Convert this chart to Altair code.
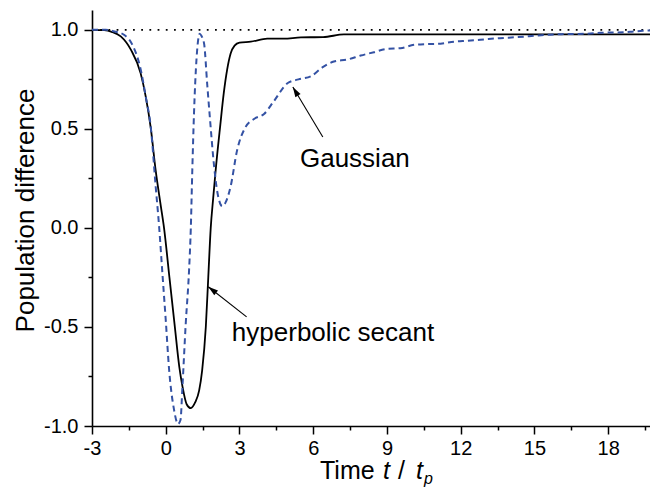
import math
import altair as alt
import pandas as pd

# ---- data ----
# hyperbolic secant pulse (solid black)
sech_t = [-3.0, -2.5, -2.2, -1.83, -1.42, -1.02, -0.81, -0.61, -0.41, -0.2, -0.07, 0.15, 0.37, 0.55, 0.68,
          0.85, 1.02, 1.2, 1.36, 1.48, 1.63, 1.73, 1.83, 1.93, 2.03, 2.22, 2.36, 2.5, 2.64, 2.8, 3.0, 3.46,
          4.13, 4.8, 5.5, 6.4, 7.25, 10.0, 15.0, 20.0]
sech_v = [1.0, 0.998, 0.99, 0.967, 0.90, 0.78, 0.66, 0.505, 0.29, 0.11, 0.0, -0.25, -0.5, -0.70, -0.80,
          -0.89, -0.91, -0.88, -0.82, -0.72, -0.50, -0.25, 0.0, 0.15, 0.29, 0.52, 0.68, 0.80, 0.88, 0.92, 0.935,
          0.94, 0.955, 0.955, 0.962, 0.963, 0.977, 0.977, 0.977, 0.977]

# Gaussian pulse (dashed blue)
gauss_t = [-3.0, -2.44, -2.03, -1.7, -1.36, -1.02, -0.81, -0.61, -0.41, -0.27, -0.13, 0.0, 0.14, 0.34, 0.5,
           0.6, 0.68, 0.81, 0.95, 1.02, 1.08, 1.15, 1.25, 1.32, 1.38, 1.45, 1.56, 1.69, 1.8, 1.96, 2.1,
           2.3, 2.44, 2.64, 2.9, 3.25, 3.59, 4.0, 4.4, 4.95, 5.4, 5.9, 6.37, 6.84, 7.39, 7.93, 8.47,
           9.0, 9.55, 10.1, 10.64, 11.18, 11.72, 12.26, 12.8, 13.6, 14.3, 15.0, 15.5, 16.1, 17.1, 17.7,
           18.4, 18.9, 19.4, 20.0]
gauss_v = [1.0, 1.0, 0.99, 0.975, 0.925, 0.80, 0.66, 0.51, 0.21, 0.007, -0.24, -0.465, -0.72, -0.92, -0.99,
           -0.97, -0.80, -0.49, -0.21, 0.0, 0.29, 0.58, 0.85, 0.95, 0.98, 0.97, 0.93, 0.72, 0.55, 0.32, 0.18,
           0.11, 0.13, 0.21, 0.39, 0.51, 0.55, 0.575, 0.64, 0.73, 0.75, 0.765, 0.81, 0.84, 0.85, 0.87, 0.887,
           0.904, 0.907, 0.924, 0.928, 0.93, 0.94, 0.945, 0.95, 0.958, 0.963, 0.97, 0.975, 0.978, 0.98, 0.985,
           0.987, 0.99, 0.995, 0.997]

# reference level
ref_t = [-3.0, 20.0]
ref_v = [1.0, 1.0]

# axis ticks
x_ticks = [-3 + 1.5 * i for i in range(16)]
y_ticks = [-1.0, -0.75, -0.5, -0.25, 0.0, 0.25, 0.5, 0.75, 1.0]

# annotations
ann_text = ["Gaussian", "hyperbolic secant"]
ann_text_t = [5.46, 2.69]
ann_text_v = [0.307, -0.570]
arrow_tail_t = [6.39, 3.29]
arrow_tail_v = [0.459, -0.449]
arrow_tip_t = [5.17, 1.73]
arrow_tip_v = [0.711, -0.297]

# ---- layout ----
W, H = 558, 416
X_DOM = [-3, 19.7]
Y_DOM = [-1.0, 1.1]
FONT = "Liberation Sans"
BLUE = "#3452a4"

px_t = W / (X_DOM[1] - X_DOM[0])
px_v = H / (Y_DOM[1] - Y_DOM[0])

xscale = alt.Scale(domain=X_DOM, nice=False, zero=False)
yscale = alt.Scale(domain=Y_DOM, nice=False, zero=False)

xaxis = alt.Axis(
    values=x_ticks,
    labelExpr="datum.value % 3 === 0 ? '' + datum.value : ''",
    tickSize={"condition": {"test": "datum.value % 3 === 0", "value": 8}, "value": 4},
    grid=False, domainColor="black", domainWidth=1.6, tickColor="black", tickWidth=1.5,
    labelFont=FONT, labelFontSize=20, labelColor="black", labelPadding=4,
    labelFlush=False, labelOverlap=False, title=None,
)
yaxis = alt.Axis(
    values=y_ticks,
    labelExpr="datum.value % 0.5 === 0 ? (datum.value < 0 ? '-' : '') + format(abs(datum.value), '.1f') : ''",
    tickSize={"condition": {"test": "datum.value % 0.5 === 0", "value": 8}, "value": 4},
    grid=False, domainColor="black", domainWidth=1.6, tickColor="black", tickWidth=1.5,
    labelFont=FONT, labelFontSize=20, labelColor="black", labelPadding=6,
    labelFlush=False, labelOverlap=False,
    title="Population difference", titleFont=FONT, titleFontSize=26, titleFontWeight="normal",
    titleColor="black", titleAngle=270, titleBaseline="alphabetic", titleAlign="center",
    titleX=-59, titleY=200,
)

X = alt.X("t:Q", scale=xscale, axis=xaxis)
Y = alt.Y("v:Q", scale=yscale, axis=yaxis)

ref_df = pd.DataFrame({"t": ref_t, "v": ref_v})
sech_df = pd.DataFrame({"t": sech_t, "v": sech_v})
gauss_df = pd.DataFrame({"t": gauss_t, "v": gauss_v})

ref_line = alt.Chart(ref_df).mark_line(
    color="black", strokeDash=[1.8, 6.4], strokeWidth=1.8, clip=True
).encode(x=X, y=Y)

sech_line = alt.Chart(sech_df).mark_line(
    color="black", strokeWidth=1.8, clip=True, interpolate="monotone"
).encode(x=X, y=Y, order="t:Q")

gauss_line = alt.Chart(gauss_df).mark_line(
    color=BLUE, strokeDash=[6, 4], strokeWidth=2, clip=True, interpolate="monotone"
).encode(x=X, y=Y, order="t:Q")

arrow_df = pd.DataFrame({
    "t": arrow_tail_t, "v": arrow_tail_v, "t2": arrow_tip_t, "v2": arrow_tip_v,
})
angles = []
for a, b, c, d in zip(arrow_tail_t, arrow_tail_v, arrow_tip_t, arrow_tip_v):
    dx = (c - a) * px_t
    dy = -(d - b) * px_v
    angles.append(math.degrees(math.atan2(dx, -dy)) % 360)
head_df = pd.DataFrame({"t": arrow_tip_t, "v": arrow_tip_v, "angle": angles})

arrow_lines = alt.Chart(arrow_df).mark_rule(color="black", strokeWidth=1.1).encode(
    x=X, y=Y, x2="t2:Q", y2="v2:Q"
)
arrow_heads = alt.Chart(head_df).mark_point(
    shape="M0,0L0.6,2L-0.6,2Z", filled=True, color="black", opacity=1, size=100, strokeWidth=0
).encode(x=X, y=Y, angle=alt.Angle("angle:Q", scale=None))

text_df = pd.DataFrame({"t": ann_text_t, "v": ann_text_v, "label": ann_text})
ann = alt.Chart(text_df).mark_text(
    align="left", baseline="alphabetic", font=FONT, fontSize=26, color="black"
).encode(x=X, y=Y, text="label:N")

# x axis title: Time t / t_p
one = pd.DataFrame({"a": [0]})
def piece(txt, xpos, ypos, size=25, style="normal"):
    return alt.Chart(one).mark_text(
        text=txt, align="left", baseline="alphabetic", font=FONT, fontSize=size,
        fontStyle=style, color="black"
    ).encode(x=alt.value(xpos), y=alt.value(ypos))

xtitle = [
    piece("Time", 228, 469),
    piece("t", 291, 469, style="italic"),
    piece("/", 306, 469),
    piece("t", 324, 469, style="italic"),
    piece("p", 332, 474, size=16, style="italic"),
]

chart = alt.layer(
    ref_line, sech_line, gauss_line, arrow_lines, arrow_heads, ann, *xtitle
).properties(
    width=W, height=H,
    autosize=alt.AutoSizeParams(type="none"),
    padding={"left": 84, "top": 2, "right": 0, "bottom": 63},
).configure_view(stroke=None)

chart.save("out.html", embed_options={"renderer": "svg", "actions": False})
